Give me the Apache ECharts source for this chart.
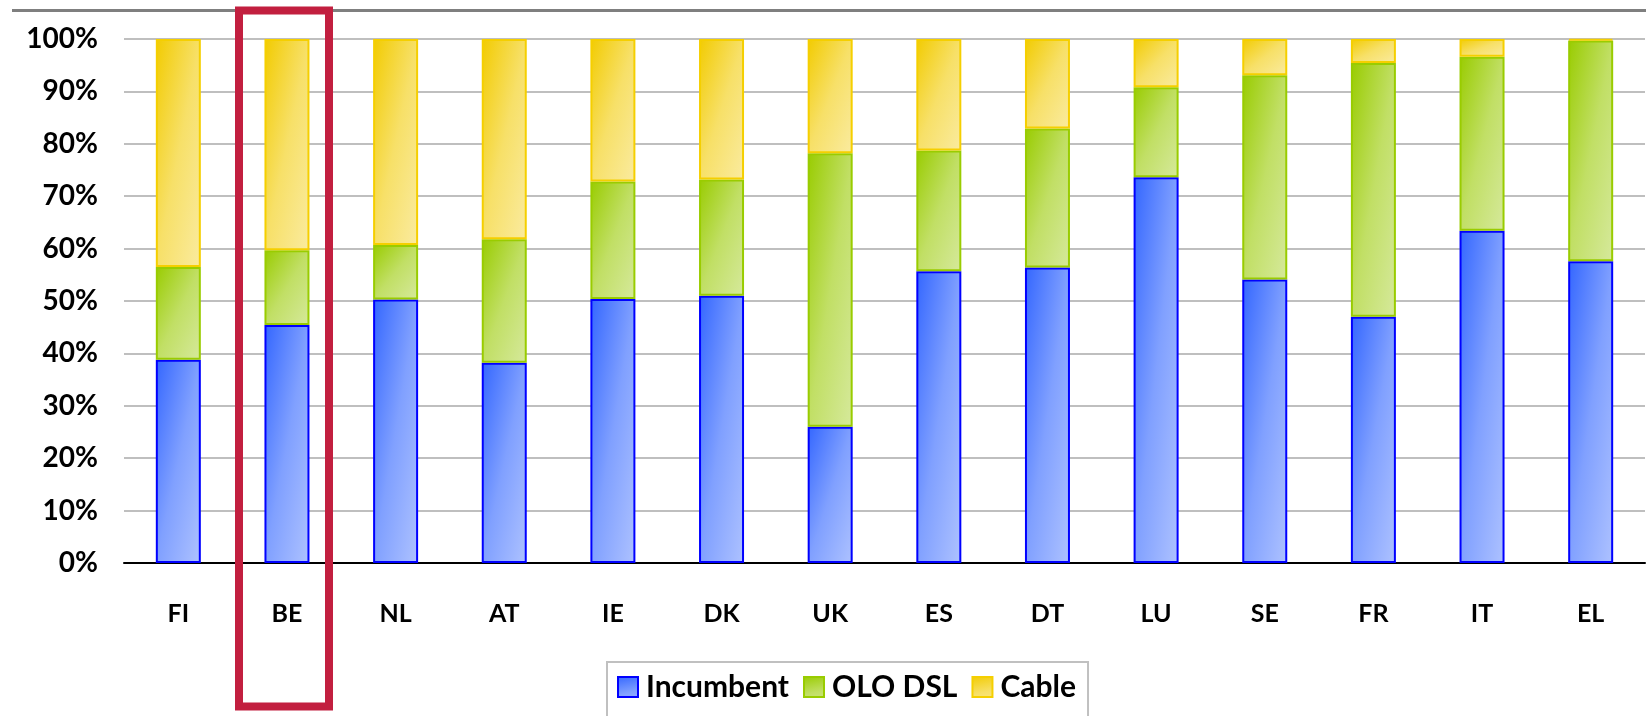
<!DOCTYPE html>
<html>
<head>
<meta charset="utf-8">
<script src="https://cdn.jsdelivr.net/npm/echarts@6/dist/echarts.min.js"></script>
<style>
  html, body { margin: 0; padding: 0; background: #fff; }
  #chart { width: 1646px; height: 716px; }
</style>
</head>
<body>
<div id="chart"></div>
<script>
const countries = ['FI', 'BE', 'NL', 'AT', 'IE', 'DK', 'UK', 'ES', 'DT', 'LU', 'SE', 'FR', 'IT', 'EL']
const incumbent = [38.8, 45.4, 50.3, 38.2, 50.4, 51.0, 26.0, 55.7, 56.4, 73.6, 54.1, 47.0, 63.4, 57.6]
const oloDsl = [17.7, 14.3, 10.4, 23.6, 22.4, 22.2, 52.2, 23.0, 26.5, 17.2, 39.0, 48.4, 33.2, 42.1]
const cable = [43.5, 40.3, 39.3, 38.2, 27.2, 26.8, 21.8, 21.3, 17.1, 9.2, 6.9, 4.6, 3.4, 0.3]
const yTicks = [0, 10, 20, 30, 40, 50, 60, 70, 80, 90, 100]

const font = 'Lato, "Open Sans", sans-serif'
const BAR_W = 45
const PX_PER_PCT = 5.24 // approx plot height / 100, only used to shape the fill

// office-style diagonal fill: dark top-left corner, light bottom-right corner,
// with the mid tone running along the other diagonal
function grad(v, [from, mid, to]) {
  const h = Math.max(v * PX_PER_PCT, 2)
  const c = 2 / (1 / (BAR_W * BAR_W) + 1 / (h * h))
  return new echarts.graphic.LinearGradient(0, 0, c / (BAR_W * BAR_W), c / (h * h), [
    { offset: 0, color: from },
    { offset: 0.5, color: mid },
    { offset: 1, color: to }
  ])
}

function bar(name, data, colors, border) {
  return {
    name,
    type: 'bar',
    stack: 'share',
    barWidth: BAR_W,
    data: data.map(v => ({ value: v, itemStyle: { color: grad(v, colors) } })),
    itemStyle: {
      color: grad(4, colors),
      borderColor: border,
      borderWidth: 2
    }
  }
}

const chart = echarts.init(document.getElementById('chart'))

chart.setOption({
  animation: false,
  backgroundColor: '#fff',
  grid: { left: 124, right: 1, top: 39, bottom: 153 },
  legend: {
    left: 607,
    top: 662,
    padding: [10, 12, 30, 10],
    borderColor: '#c0c0c0',
    borderWidth: 2,
    icon: 'rect',
    itemWidth: 20,
    itemHeight: 20,
    itemGap: 14,
    textStyle: {
      fontFamily: font, fontWeight: 'bold', fontSize: 30, color: '#000',
      padding: [0, 0, 0, 3]
    },
    data: ['Incumbent', 'OLO DSL', 'Cable']
  },
  xAxis: {
    type: 'category',
    data: countries,
    axisLine: { lineStyle: { color: '#000', width: 2 } },
    axisTick: { length: 9, lineStyle: { color: '#000', width: 2 } },
    axisLabel: { margin: 38, fontFamily: font, fontWeight: 'bold', fontSize: 25, color: '#000' }
  },
  yAxis: {
    type: 'value',
    min: yTicks[0],
    max: yTicks[yTicks.length - 1],
    interval: 10,
    axisLine: { show: false },
    axisTick: { show: false },
    splitLine: { lineStyle: { color: '#bfbfbf', width: 2 } },
    axisLabel: { margin: 26, formatter: '{value}%', fontFamily: font, fontWeight: 'bold', fontSize: 28, color: '#000' }
  },
  graphic: [
    {
      type: 'line',
      shape: { x1: 12, y1: 10.5, x2: 1646, y2: 10.5 },
      style: { stroke: '#7f7f7f', lineWidth: 3 },
      z: 1
    },
    {
      type: 'rect',
      shape: { x: 239, y: 10.5, width: 90, height: 696 },
      style: { fill: null, stroke: '#c21f3f', lineWidth: 8 },
      z: 100
    }
  ],
  series: [
    bar('Incumbent', incumbent, ['#3366ff', '#80a0ff', '#aec2ff'], '#0000ff'),
    bar('OLO DSL', oloDsl, ['#99cc00', '#c1df65', '#d6e99c'], '#99cc00'),
    bar('Cable', cable, ['#f2cb00', '#f7e068', '#faeba0'], '#f5cf00')
  ]
})

window.addEventListener('resize', () => {
  chart.resize()
})
</script>
</body>
</html>
